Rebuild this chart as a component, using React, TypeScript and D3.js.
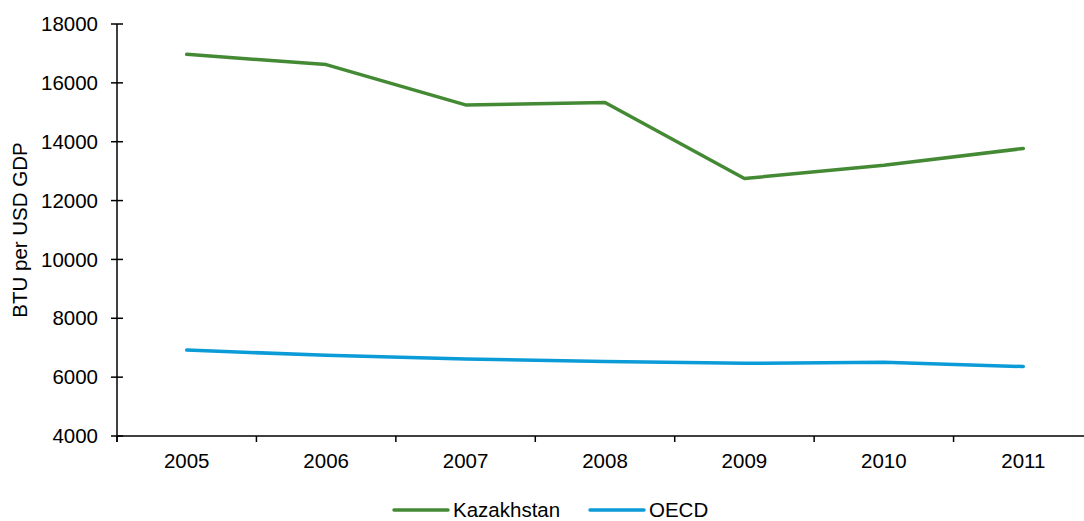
import React from "react";
import * as d3 from "d3";

const years = ["2005", "2006", "2007", "2008", "2009", "2010", "2011"];
const kazakhstan = [16970, 16620, 15250, 15330, 12750, 13200, 13770];
const oecd = [6920, 6740, 6620, 6530, 6470, 6510, 6360];
const yTicks = [4000, 6000, 8000, 10000, 12000, 14000, 16000, 18000];
const seriesNames = ["Kazakhstan", "OECD"];
const seriesColors = ["#448A34", "#0B9BD7"];

export default function App() {
  const W = 1084, H = 521;
  const left = 117, right = 1093, top = 24, bottom = 436;
  const x = d3.scaleBand<string>().domain(years).range([left, right]);
  const y = d3.scaleLinear().domain([4000, 18000]).range([bottom, top]);
  const line = d3
    .line<number>()
    .x((_, i) => (x(years[i]) as number) + x.bandwidth() / 2)
    .y((d) => y(d));
  const font = "Liberation Sans, Arial, sans-serif";
  const fs = 20.5;
  const boundaries = years.map((yr) => x(yr) as number).concat([right]);
  const data = [kazakhstan, oecd];
  const legendX = [394, 590];

  return (
    <svg width={W} height={H} style={{ position: "absolute", left: 0, top: 0 }} fontFamily={font}>
      <rect width={W} height={H} fill="white" />
      {/* y axis */}
      <line x1={left} x2={left} y1={top} y2={bottom + 6} stroke="#000" strokeWidth={1.5} />
      {yTicks.map((t) => (
        <g key={t}>
          <line x1={left - 6} x2={left + 6} y1={y(t)} y2={y(t)} stroke="#000" strokeWidth={1.5} />
          <text x={98} y={y(t)} dy="0.35em" textAnchor="end" fontSize={fs} fill="#000">
            {t}
          </text>
        </g>
      ))}
      {/* x axis */}
      <line x1={left} x2={right} y1={bottom} y2={bottom} stroke="#000" strokeWidth={1.5} />
      {boundaries.map((b, i) => (
        <line key={i} x1={b} x2={b} y1={bottom} y2={bottom + 6} stroke="#000" strokeWidth={1.5} />
      ))}
      {years.map((yr) => (
        <text
          key={yr}
          x={(x(yr) as number) + x.bandwidth() / 2}
          y={468}
          textAnchor="middle"
          fontSize={fs}
          fill="#000"
        >
          {yr}
        </text>
      ))}
      <text
        transform={`translate(27, ${(top + bottom) / 2}) rotate(-90)`}
        textAnchor="middle"
        fontSize={fs}
        fill="#000"
      >
        BTU per USD GDP
      </text>
      {data.map((d, i) => (
        <path
          key={i}
          d={line(d) || ""}
          fill="none"
          stroke={seriesColors[i]}
          strokeWidth={3.5}
          strokeLinecap="round"
          strokeLinejoin="round"
        />
      ))}
      {seriesNames.map((n, i) => (
        <g key={n}>
          <line
            x1={legendX[i]}
            x2={legendX[i] + 54}
            y1={510}
            y2={510}
            stroke={seriesColors[i]}
            strokeWidth={3.5}
            strokeLinecap="round"
          />
          <text x={legendX[i] + 59} y={510} dy="0.35em" fontSize={fs} fill="#000">
            {n}
          </text>
        </g>
      ))}
    </svg>
  );
}
